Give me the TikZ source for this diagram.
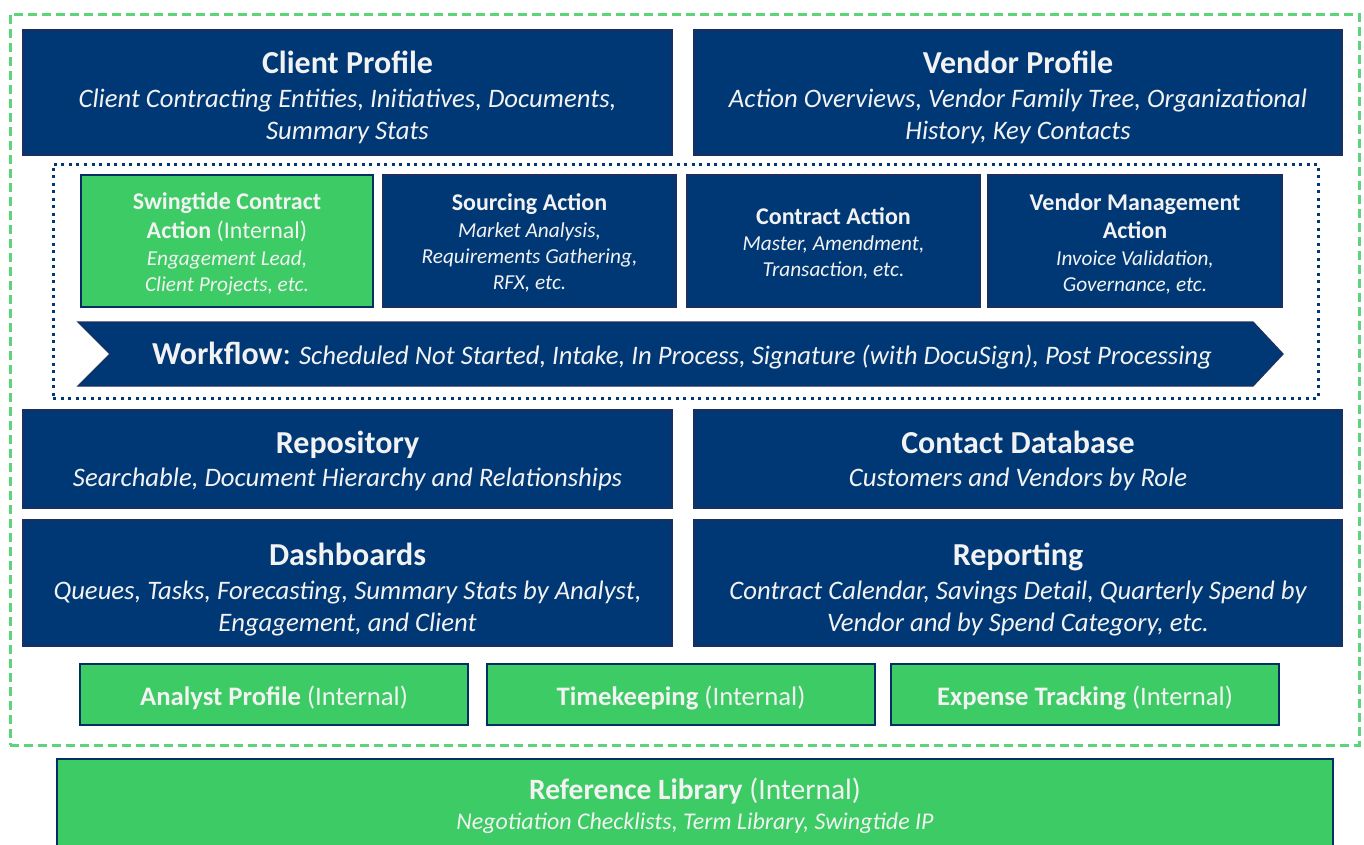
\documentclass[tikz,border=0pt]{standalone}
\usepackage{fontspec}
\setmainfont{Carlito}
\definecolor{navy}{RGB}{0,56,117}
\definecolor{navyedge}{RGB}{28,48,96}
\definecolor{sgreen}{RGB}{60,203,100}
\definecolor{dgreen}{RGB}{92,212,122}
\definecolor{txt}{RGB}{242,242,242}
\tikzset{
  navybox/.style={draw=navyedge, line width=1.3pt, fill=navy, inner sep=0pt, outer sep=0pt},
  greenbox/.style={draw=navy!85!black, line width=2.5pt, fill=sgreen, inner sep=0pt, outer sep=0pt},
  tt/.style={text=txt, anchor=base, inner sep=0pt, font=\fontsize{32}{38}\selectfont\bfseries},
  ts/.style={text=txt, anchor=base, inner sep=0pt, font=\fontsize{26.7}{32}\selectfont\itshape},
  st/.style={text=txt, anchor=base, inner sep=0pt, font=\fontsize{24}{29}\selectfont\bfseries},
  stn/.style={text=txt, anchor=base, inner sep=0pt, font=\fontsize{24}{29}\selectfont},
  ss/.style={text=txt, anchor=base, inner sep=0pt, font=\fontsize{21.3}{26}\selectfont\itshape},
  gt/.style={text=txt, anchor=base, inner sep=0pt, font=\fontsize{26.7}{32}\selectfont},
}
\begin{document}
\begin{tikzpicture}[x=1pt,y=-1pt]
\useasboundingbox (0,0) rectangle (1364,844);
% outer dashed frame
\node[draw=dgreen, line width=3pt, dash pattern=on 9pt off 5pt, minimum width=1349pt, minimum height=731pt, inner sep=0pt] (outer) at (684.5,379.5) {};
% profiles
\node[navybox, minimum width=649pt, minimum height=125pt] (client) at (347.5,92.5) {};
\node[tt] (clientT) at (347.5,73) {Client Profile};
\node[ts] (clientS1) at (347.5,107) {Client Contracting Entities, Initiatives, Documents,};
\node[ts] (clientS2) at (347.5,139) {Summary Stats};
\node[navybox, minimum width=648pt, minimum height=125pt] (vendor) at (1018,92.5) {};
\node[tt] (vendorT) at (1018,73) {Vendor Profile};
\node[ts] (vendorS1) at (1018,107) {Action Overviews, Vendor Family Tree, Organizational};
\node[ts] (vendorS2) at (1018,139) {History, Key Contacts};
% dotted core
\node[draw=navy, line width=3pt, dash pattern=on 3pt off 4.5pt, minimum width=1265pt, minimum height=234pt, inner sep=0pt] (core) at (685.5,281) {};
% actions
\node[greenbox, minimum width=292pt, minimum height=132pt] (swing) at (227,241) {};
\node[st] (swingT1) at (227,209) {Swingtide Contract};
\node[stn] (swingT2) at (227,238) {\textbf{Action} (Internal)};
\node[ss] (swingS1) at (227,265) {Engagement Lead,};
\node[ss] (swingS2) at (227,291) {Client Projects, etc.};
\node[navybox, minimum width=293pt, minimum height=132pt] (sourcing) at (529.5,241) {};
\node[st] (sourcingT) at (529.5,210) {Sourcing Action};
\node[ss] (sourcingS1) at (529.5,237) {Market Analysis,};
\node[ss] (sourcingS2) at (529.5,263) {Requirements Gathering,};
\node[ss] (sourcingS3) at (529.5,289) {RFX, etc.};
\node[navybox, minimum width=293pt, minimum height=132pt] (contract) at (833.5,241) {};
\node[st] (contractT) at (833.5,224) {Contract Action};
\node[ss] (contractS1) at (833.5,250) {Master, Amendment,};
\node[ss] (contractS2) at (833.5,276) {Transaction, etc.};
\node[navybox, minimum width=294pt, minimum height=132pt] (vm) at (1135,241) {};
\node[st] (vmT1) at (1135,210) {Vendor Management};
\node[st] (vmT2) at (1135,238) {Action};
\node[ss] (vmS1) at (1135,265) {Invoice Validation,};
\node[ss] (vmS2) at (1135,291) {Governance, etc.};
% workflow arrow
\coordinate (w1) at (78,322);
\coordinate (w2) at (1253,322);
\coordinate (w3) at (1283,354);
\coordinate (w4) at (1253,386);
\coordinate (w5) at (78,386);
\coordinate (w6) at (110,354);
\draw[navyedge, line width=1.3pt, fill=navy] (w1) -- (w2) -- (w3) -- (w4) -- (w5) -- (w6) -- cycle;
\node[text=txt, anchor=base, inner sep=0pt, font=\fontsize{26.7}{32}\selectfont] (workflow) at (682,364) {{\fontsize{32}{38}\selectfont\bfseries Workflow}{\fontsize{32}{38}\selectfont:} {\itshape Scheduled Not Started, Intake, In Process, Signature (with DocuSign), Post Processing}};
% repository / contacts
\node[navybox, minimum width=649pt, minimum height=98pt] (repo) at (347.5,459) {};
\node[tt] (repoT) at (347.5,453) {Repository};
\node[ts] (repoS) at (347.5,486) {Searchable, Document Hierarchy and Relationships};
\node[navybox, minimum width=648pt, minimum height=98pt] (contact) at (1018,459) {};
\node[tt] (contactT) at (1018,453) {Contact Database};
\node[ts] (contactS) at (1018,486) {Customers and Vendors by Role};
% dashboards / reporting
\node[navybox, minimum width=649pt, minimum height=126pt] (dash) at (347.5,583) {};
\node[tt] (dashT) at (347.5,565) {Dashboards};
\node[ts] (dashS1) at (347.5,599) {Queues, Tasks, Forecasting, Summary Stats by Analyst,};
\node[ts] (dashS2) at (347.5,631) {Engagement, and Client};
\node[navybox, minimum width=648pt, minimum height=126pt] (report) at (1018,583) {};
\node[tt] (reportT) at (1018,565) {Reporting};
\node[ts] (reportS1) at (1018,599) {Contract Calendar, Savings Detail, Quarterly Spend by};
\node[ts] (reportS2) at (1018,631) {Vendor and by Spend Category, etc.};
% internal tools
\node[greenbox, minimum width=388pt, minimum height=61pt] (analyst) at (274,694.5) {};
\node[gt] (analystT) at (274,705) {\textbf{Analyst Profile} (Internal)};
\node[greenbox, minimum width=388pt, minimum height=61pt] (time) at (681,694.5) {};
\node[gt] (timeT) at (681,705) {\textbf{Timekeeping} (Internal)};
\node[greenbox, minimum width=388pt, minimum height=61pt] (expense) at (1085,694.5) {};
\node[gt] (expenseT) at (1085,705) {\textbf{Expense Tracking} (Internal)};
% reference library
\node[greenbox, minimum width=1276pt, minimum height=101pt] (ref) at (695,809.5) {};
\node[text=txt, anchor=base, inner sep=0pt, font=\fontsize{29.5}{35}\selectfont] (refT) at (695,799) {\textbf{Reference Library} (Internal)};
\node[text=txt, anchor=base, inner sep=0pt, font=\fontsize{24}{29}\selectfont\itshape] (refS) at (695,829) {Negotiation Checklists, Term Library, Swingtide IP};
\end{tikzpicture}
\end{document}
